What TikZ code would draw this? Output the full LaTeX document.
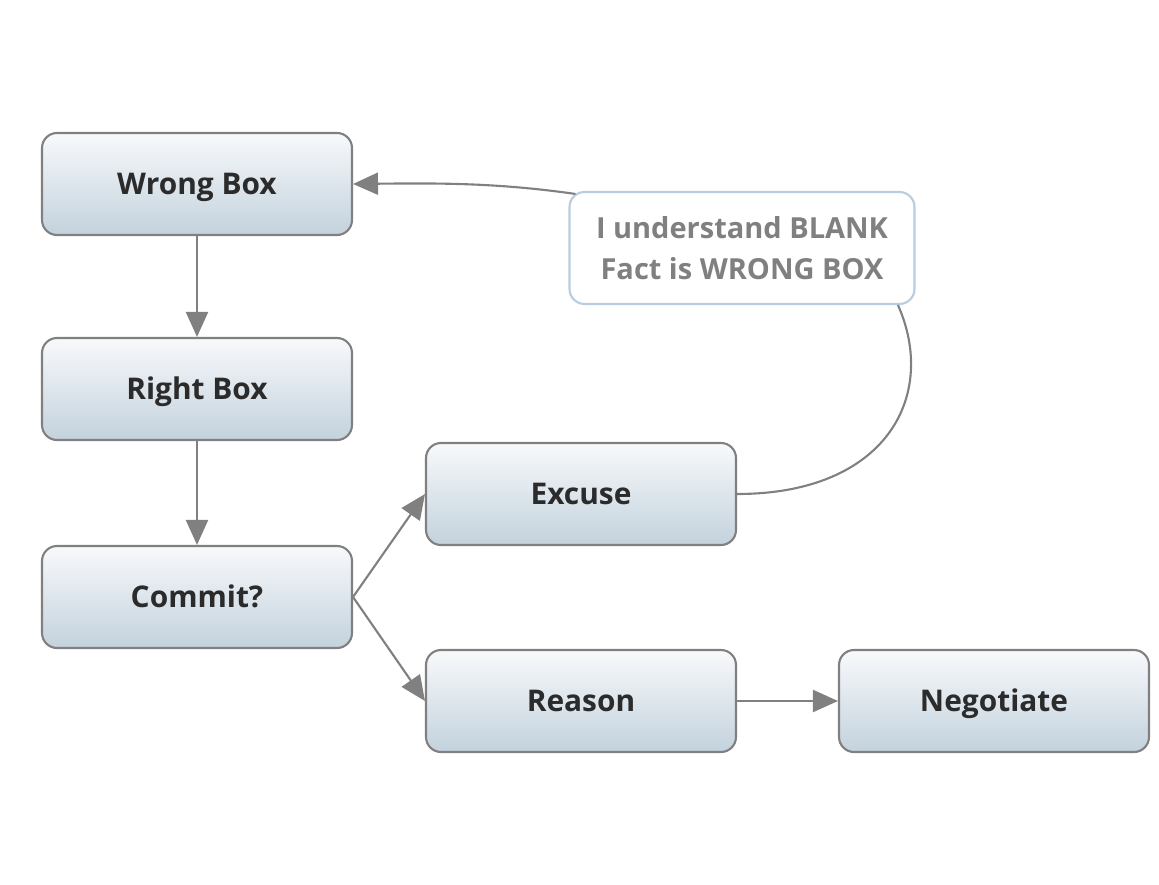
\documentclass[tikz,border=0pt]{standalone}
\usepackage{fontspec}
\setmainfont{Open Sans}
\usetikzlibrary{arrows.meta}

\definecolor{boxline}{HTML}{808080}
\definecolor{boxtop}{HTML}{F8F9FB}
\definecolor{boxbot}{HTML}{C3D2DD}
\definecolor{noteline}{HTML}{B8CDDF}
\definecolor{boxtext}{HTML}{2B2B2B}

\tikzset{
    box/.style={draw=boxline, line width=1.2pt, rounded corners=8.5pt,
        top color=boxtop, bottom color=boxbot, minimum width=6.2cm,
        minimum height=2.04cm, font=\bfseries\fontsize{17}{20}\selectfont,
        text=boxtext, text height=2.5ex, text depth=0.3ex},
    note/.style={draw=noteline, line width=1.2pt, rounded corners=8.5pt,
        fill=white, minimum width=6.9cm, minimum height=2.24cm, align=center,
        font=\bfseries\fontsize{16.5}{23}\selectfont, text=boxline},
    link/.style={draw=boxline, line width=1.2pt,
        -{Triangle[length=0.5cm, width=0.44cm]}},
}

\begin{document}
\begin{tikzpicture}[x=0.02cm, y=-0.02cm]
                    \useasboundingbox (0,0) rectangle (1159,885);
                    \node[box] (wrong) at (197,184) {Wrong Box};
                    \node[box] (right) at (197,389) {Right Box};
                    \node[box] (commit) at (197,597) {Commit?};
                    \node[box] (excuse) at (581,494) {Excuse};
                    \node[box] (reason) at (581,701) {Reason};
                    \node[box] (negot) at (994,701) {Negotiate};
                    \node[note] (blank) at (742,248) {I understand BLANK\\Fact is WRONG BOX};
                    \draw[link] (wrong) -- (right);
                    \draw[link] (right) -- (commit);
                    \draw[link] (commit.east) -- (excuse.west);
                    \draw[link] (commit.east) -- (reason.west);
                    \draw[link] (reason) -- (negot);
                    % the excuse goes back to the wrong box, by way of the note
                    \draw[draw=boxline, line width=1.2pt] (excuse.east)
                        .. controls +(150,0) and +(40,90) .. ([xshift=-10]blank.south east);
                    \draw[link] ([shift={(7,3)}]blank.north west)
                        .. controls +(-77,-11) and +(88,-1) .. (wrong.east);
                \end{tikzpicture}
\end{document}
